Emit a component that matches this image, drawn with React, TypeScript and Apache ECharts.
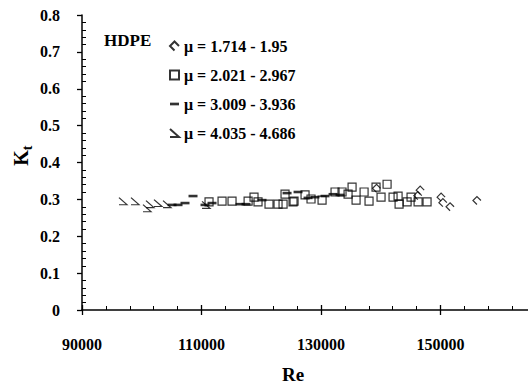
import React, { useEffect, useRef } from "react";
import * as echarts from "echarts";

// ---- data ----
const xTicks = [90000, 110000, 130000, 150000];
const yTicks = [0, 0.1, 0.2, 0.3, 0.4, 0.5, 0.6, 0.7, 0.8];

const seriesNames = [
  "μ = 1.714 - 1.95",
  "μ = 2.021 - 2.967",
  "μ = 3.009 - 3.936",
  "μ = 4.035 - 4.686",
];

const s1Re = [139300, 146200, 146600, 150100, 150400, 151600, 156100];
const s1K = [0.330, 0.310, 0.325, 0.306, 0.291, 0.280, 0.297];

const s2Re = [111260, 113440, 115110, 117800, 118790, 119460, 121300, 122810, 123650, 123980, 125320, 125490, 127330, 128330, 130180, 132350, 133520, 134530, 135200, 135870, 137210, 138040, 139210, 140050, 141060, 142060, 142900, 143070, 144410, 145070, 146250, 147750];
const s2K = [0.293, 0.295, 0.295, 0.295, 0.306, 0.293, 0.287, 0.287, 0.287, 0.314, 0.293, 0.295, 0.312, 0.301, 0.298, 0.320, 0.320, 0.314, 0.333, 0.298, 0.320, 0.295, 0.333, 0.306, 0.341, 0.306, 0.309, 0.287, 0.293, 0.306, 0.293, 0.293];

const s3Re = [105070, 106070, 107240, 108580, 110590, 111760, 116450, 117450, 120130, 124320, 126160, 127830, 129000, 130670, 132020, 133190];
const s3K = [0.285, 0.285, 0.290, 0.309, 0.285, 0.290, 0.287, 0.287, 0.298, 0.317, 0.320, 0.304, 0.306, 0.309, 0.314, 0.312];

const s4Re = [96860, 98870, 100880, 101380, 102720, 104230, 110760];
const s4K = [0.295, 0.295, 0.276, 0.287, 0.290, 0.287, 0.285];

const FONT = "Liberation Serif";

const sym1 = "path://M10 5 L5 0 L0 5 L5 10";
const sym2 = "path://M0 0 L10 0 L10 10 L0 10 Z";
const sym3 = "path://M0 0 L10 0 L10 3 L0 3 Z";
const sym4 = "path://M0 0 L9 8 L0 8";

const zip = (a: number[], b: number[]) => a.map((v, i) => [v, b[i]]);

export default function App() {
  const ref = useRef<HTMLDivElement>(null);
  useEffect(() => {
    if (!ref.current) return;
    const chart = echarts.init(ref.current, undefined, { renderer: "svg" });
    const stroke = { color: "transparent", borderColor: "#000", borderWidth: 1.2 };
    const xMin = xTicks[0];
    const xInt = xTicks[1] - xTicks[0];
    const yInt = yTicks[1] - yTicks[0];
    const axisLabelStyle = { fontFamily: FONT, fontWeight: "bold" as const, fontSize: 16, color: "#000" };
    chart.setOption({
      animation: false,
      backgroundColor: "#fff",
      grid: { left: 82, top: 15, width: 478, height: 295, outerBoundsMode: "none", containLabel: false },
      xAxis: [
        {
          type: "value",
          min: xMin,
          max: xMin + 4 * xInt,
          interval: xInt,
          axisLine: { lineStyle: { color: "#000", width: 1.5 } },
          axisTick: { show: true, length: 5, lineStyle: { color: "#000", width: 1.3 } },
          splitLine: { show: false },
          axisLabel: {
            ...axisLabelStyle,
            margin: 26,
            formatter: (v: number) => (xTicks.includes(v) ? String(v) : ""),
          },
          name: "Re",
          nameLocation: "middle",
          nameGap: 55,
          nameTextStyle: { fontFamily: FONT, fontWeight: "bold", fontSize: 19, lineHeight: 19, color: "#000", padding: [0, 0, 0, -56] },
        },
        {
          type: "value",
          position: "bottom",
          min: xMin,
          max: xMin + 4 * xInt,
          interval: xInt,
          axisLine: { show: false },
          axisTick: { show: true, inside: true, length: 5, lineStyle: { color: "#000", width: 1.3 } },
          minorTick: { show: true, splitNumber: 5, length: 4, lineStyle: { color: "#000", width: 1 } },
          splitLine: { show: false },
          axisLabel: { show: false },
        },
      ],
      yAxis: [
        {
          type: "value",
          min: 0,
          max: 0.8,
          interval: yInt,
          axisLine: { show: true, lineStyle: { color: "#000", width: 1.5 } },
          axisTick: { show: true, length: 5, lineStyle: { color: "#000", width: 1.3 } },
          splitLine: { show: false },
          axisLabel: {
            ...axisLabelStyle,
            margin: 22,
            formatter: (v: number) => (v === 0 ? "0" : v.toFixed(1)),
          },
        },
        {
          type: "value",
          position: "left",
          min: 0,
          max: 0.8,
          interval: yInt,
          axisLine: { show: false },
          axisTick: { show: false, inside: true },
          minorTick: { show: true, splitNumber: 5, length: 4, lineStyle: { color: "#000", width: 1 } },
          splitLine: { show: false },
          axisLabel: { show: false },
        },
      ],
      legend: {
        orient: "vertical",
        left: 164,
        top: 33,
        itemWidth: 9,
        itemHeight: 9,
        itemGap: 13,
        textStyle: { fontFamily: FONT, fontWeight: "bold", fontSize: 16, color: "#000", lineHeight: 16 },
        data: [
          { name: seriesNames[0], icon: sym1 },
          { name: seriesNames[1], icon: sym2 },
          { name: seriesNames[2], icon: sym3 },
          { name: seriesNames[3], icon: sym4 },
        ],
      },
      graphic: [
        {
          type: "text",
          left: 104,
          top: 32,
          style: { text: "HDPE", fontFamily: FONT, fontWeight: "bold", fontSize: 17, fill: "#000" },
        },
        {
          type: "group",
          x: 31,
          y: 158,
          rotation: Math.PI / 2,
          children: [
            {
              type: "text",
              x: 0,
              y: 0,
              style: { text: "K", fontFamily: FONT, fontWeight: "bold", fontSize: 20, fill: "#000", textAlign: "center", textVerticalAlign: "bottom" },
            },
            {
              type: "text",
              x: 10,
              y: 3,
              style: { text: "t", fontFamily: FONT, fontWeight: "bold", fontSize: 14, fill: "#000", textAlign: "center", textVerticalAlign: "bottom" },
            },
          ],
        },
      ],
      series: [
        {
          name: seriesNames[0],
          type: "scatter",
          symbol: sym1,
          symbolSize: 8,
          itemStyle: stroke,
          data: zip(s1Re, s1K),
        },
        {
          name: seriesNames[1],
          type: "scatter",
          symbol: sym2,
          symbolSize: 8,
          itemStyle: stroke,
          data: zip(s2Re, s2K),
        },
        {
          name: seriesNames[2],
          type: "scatter",
          symbol: "rect",
          symbolSize: [9, 2.6],
          itemStyle: { color: "#000" },
          data: zip(s3Re, s3K),
        },
        {
          name: seriesNames[3],
          type: "scatter",
          symbol: sym4,
          symbolSize: [8, 7],
          itemStyle: stroke,
          data: zip(s4Re, s4K),
        },
      ],
    });
    return () => chart.dispose();
  }, []);
  return <div ref={ref} style={{ position: "fixed", left: 0, top: 0, width: 528, height: 385 }} />;
}
